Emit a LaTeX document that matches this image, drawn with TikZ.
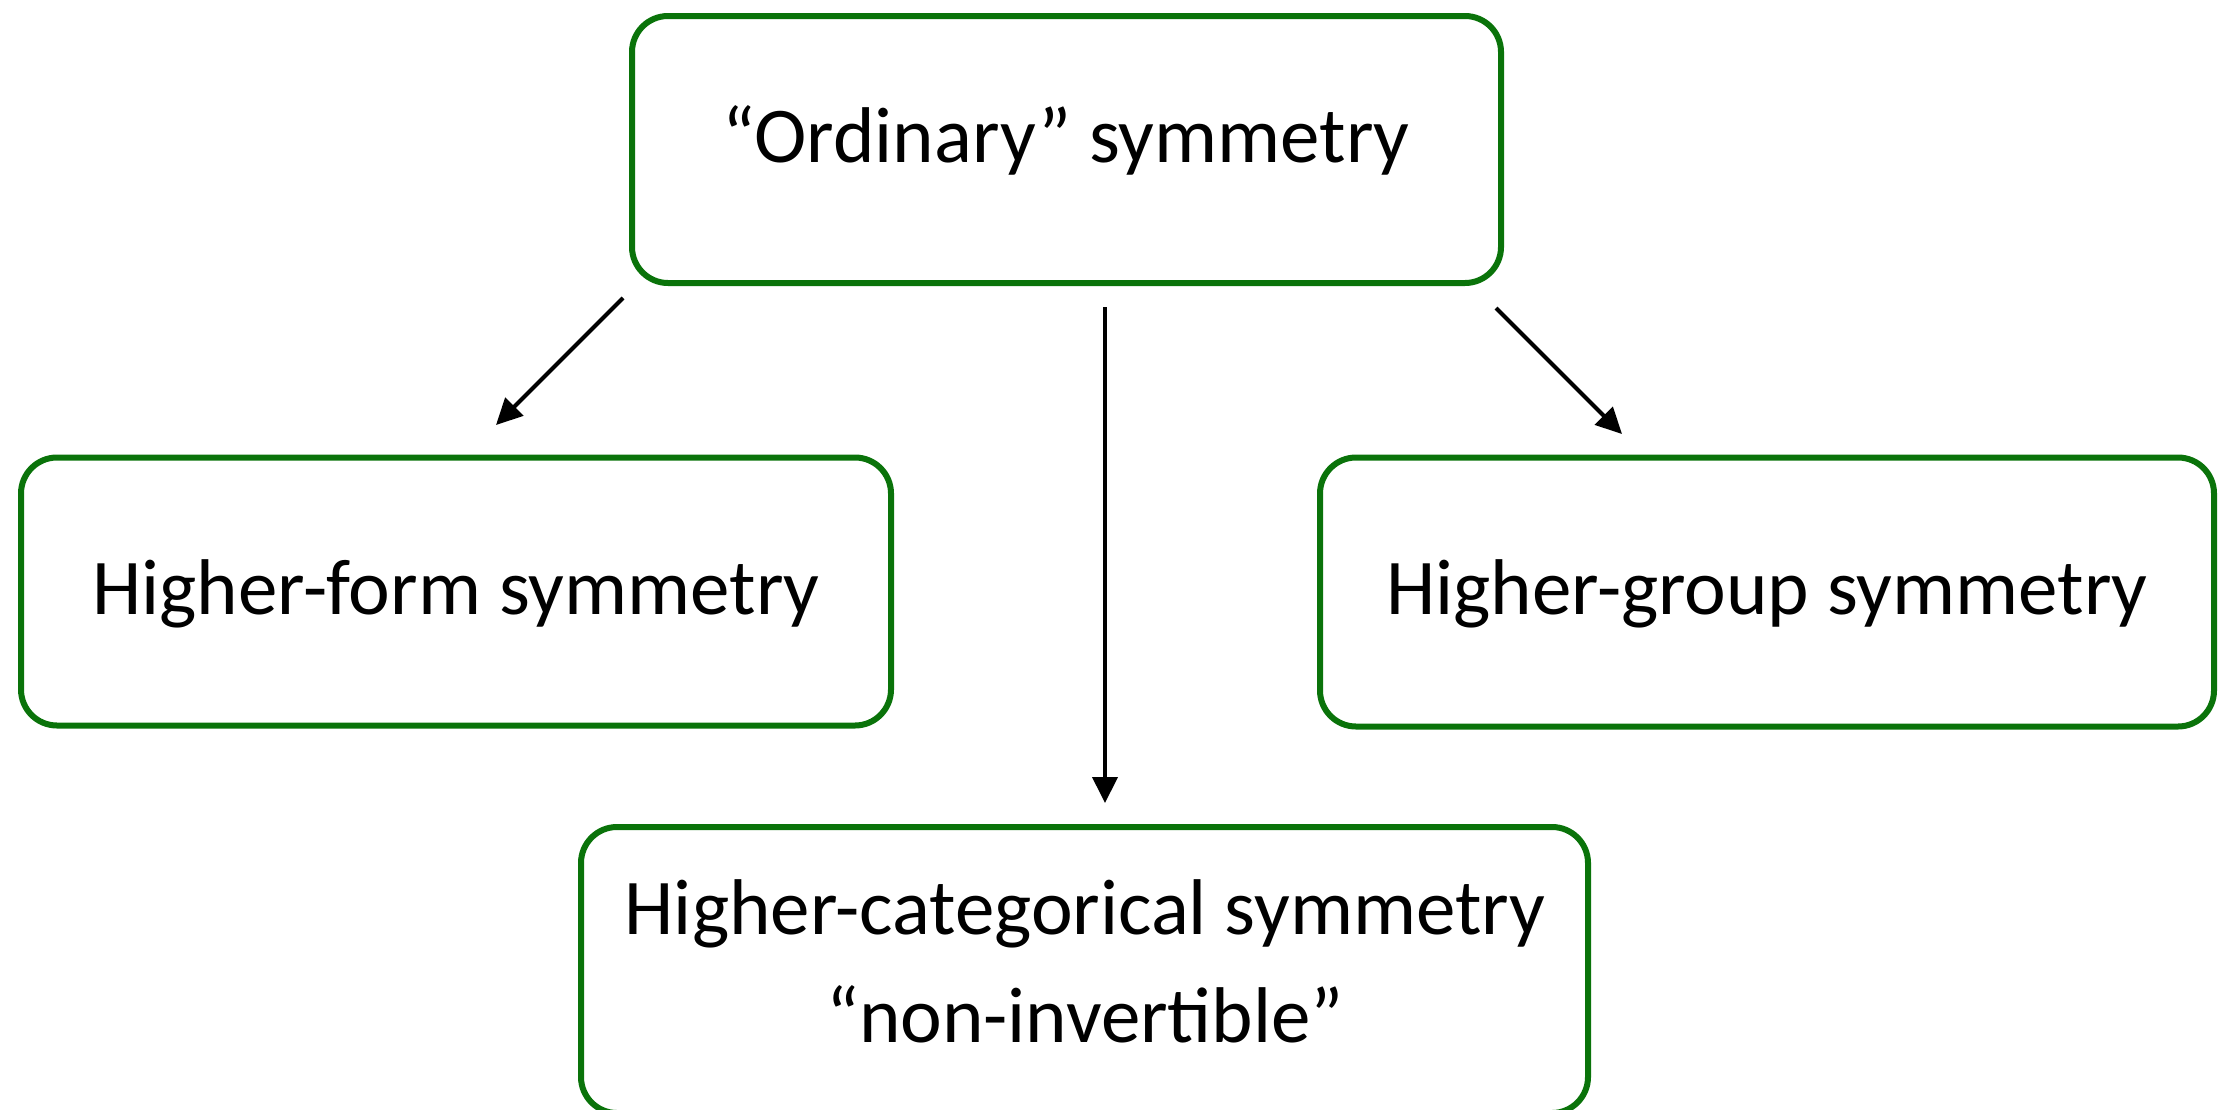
\documentclass[tikz,border=0pt]{standalone}
\usepackage{fontspec}
\setmainfont{Carlito}
\usetikzlibrary{arrows.meta}
\definecolor{boxgreen}{RGB}{10,115,10}
\begin{document}
\begin{tikzpicture}[x=1pt,y=-1pt,
  box/.style={draw=boxgreen, line width=6pt, rounded corners=36pt, inner sep=0pt},
  lbl/.style={anchor=base, inner sep=0pt, font=\fontsize{79}{95}\selectfont},
  arr/.style={line width=4pt, -{Triangle[length=26pt,width=25pt]}}]
\useasboundingbox (0,0) rectangle (2218,1109);
% boxes
\node[box, minimum width=869pt, minimum height=267pt] (top) at (1066.5,149.5) {};
\node[box, minimum width=870pt, minimum height=268pt] (left) at (456,591.5) {};
\node[box, minimum width=894pt, minimum height=269pt] (right) at (1767,592) {};
\node[box, minimum width=1007pt, minimum height=286pt] (bottom) at (1084.5,970) {};
% texts
\node[lbl] (toptext) at (1066,162) {“Ordinary” symmetry};
\node[lbl] (lefttext) at (456,614) {Higher-form symmetry};
\node[lbl] (righttext) at (1767,614) {Higher-group symmetry};
\node[lbl] (bottext1) at (1085,934) {Higher-categorical symmetry};
\node[lbl] (bottext2) at (1085,1042) {“non-invertible”};
% arrows
\coordinate (a1s) at (623,298);
\coordinate (a1e) at (496,425);
\coordinate (a2s) at (1105,307);
\coordinate (a2e) at (1105,803);
\coordinate (a3s) at (1496,308);
\coordinate (a3e) at (1622,434);
\draw[arr] (a1s) -- (a1e);
\draw[arr] (a2s) -- (a2e);
\draw[arr] (a3s) -- (a3e);
\end{tikzpicture}
\end{document}
